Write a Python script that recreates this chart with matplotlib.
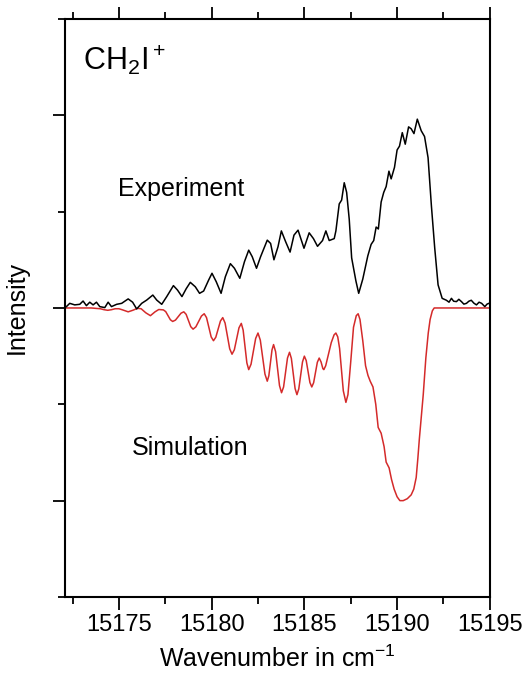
import matplotlib
matplotlib.use("Agg")
import matplotlib.pyplot as plt
from matplotlib.ticker import MultipleLocator

plt.rcParams['font.family'] = ['Liberation Sans', 'DejaVu Sans']
plt.rcParams['mathtext.fontset'] = 'custom'
plt.rcParams['mathtext.rm'] = 'Liberation Sans'
plt.rcParams['mathtext.it'] = 'Liberation Sans'

# Experiment (black)
exp_x = [15172.17, 15172.35, 15172.62, 15172.89, 15173.07, 15173.25, 15173.43, 15173.61,
         15173.79, 15173.97, 15174.24, 15174.42, 15174.6, 15174.88, 15175.15, 15175.5,
         15175.74, 15175.96, 15176.23, 15176.5, 15176.83, 15177.04, 15177.31, 15177.58,
         15177.94, 15178.16, 15178.4, 15178.63, 15178.85, 15179.12, 15179.35, 15179.57,
         15179.84, 15180.02, 15180.25, 15180.51, 15180.74, 15181.01, 15181.23, 15181.52,
         15181.77, 15182.0, 15182.19, 15182.42, 15182.64, 15183.0, 15183.18, 15183.36,
         15183.58, 15183.76, 15183.99, 15184.23, 15184.44, 15184.66,
         15184.98, 15185.26, 15185.49, 15185.71, 15185.98, 15186.16, 15186.34, 15186.61,
         15186.7, 15186.88, 15187.01, 15187.15, 15187.28, 15187.42, 15187.55, 15187.78,
         15187.93, 15188.15, 15188.42, 15188.6, 15188.74, 15188.87, 15188.99, 15189.14,
         15189.28, 15189.41, 15189.56, 15189.68, 15189.86, 15190.0, 15190.13, 15190.28,
         15190.44, 15190.62, 15190.76, 15190.91, 15191.09, 15191.3, 15191.48, 15191.67,
         15191.85, 15192.03, 15192.21, 15192.43, 15192.66, 15192.8, 15192.93, 15193.05,
         15193.2, 15193.33, 15193.47, 15193.6, 15193.74, 15193.87, 15194.0, 15194.14,
         15194.28, 15194.42, 15194.56, 15194.73, 15194.85, 15194.95]
exp_y = [0.007, 0.024, 0.016, 0.019, 0.036, 0.012, 0.03, 0.016,
         0.03, 0.007, 0.002, 0.03, 0.007, 0.019, 0.024, 0.047,
         0.03, -0.005, 0.024, 0.041, 0.067, 0.041, 0.019, 0.059,
         0.116, 0.093, 0.059, 0.10, 0.133, 0.11, 0.076, 0.088,
         0.145, 0.18, 0.136, 0.076, 0.162, 0.23, 0.206, 0.154,
         0.24, 0.30, 0.266, 0.206, 0.266, 0.352, 0.335, 0.25,
         0.318, 0.40, 0.344, 0.29, 0.378, 0.404,
         0.31, 0.39, 0.36, 0.32, 0.35, 0.40, 0.35, 0.36,
         0.40, 0.54, 0.56, 0.65, 0.60, 0.46, 0.26, 0.14,
         0.076, 0.15, 0.27, 0.33, 0.35, 0.42, 0.41, 0.55,
         0.60, 0.63, 0.71, 0.67, 0.73, 0.82, 0.84, 0.91,
         0.85, 0.94, 0.93, 0.905, 0.98, 0.92, 0.89, 0.78,
         0.53, 0.31, 0.12, 0.05, 0.04, 0.03, 0.05, 0.035,
         0.033, 0.045, 0.033, 0.02, 0.024, 0.035, 0.04, 0.025,
         0.016, 0.03, 0.024, 0.007, 0.02, 0.024]

# Simulation (red)
sim_x = [15172.1, 15173.5, 15174.0, 15174.2, 15174.4, 15174.6, 15174.8, 15175.0,
         15175.2, 15175.5, 15175.75, 15176.0, 15176.2, 15176.45, 15176.7, 15176.95,
         15177.15, 15177.4, 15177.525, 15177.65, 15177.775, 15177.9, 15178.05, 15178.2,
         15178.35, 15178.5, 15178.625, 15178.75, 15178.875, 15179.0, 15179.15, 15179.3,
         15179.45, 15179.6, 15179.725, 15179.85, 15179.975, 15180.1, 15180.225, 15180.35,
         15180.475, 15180.6, 15180.725, 15180.85, 15180.975, 15181.1, 15181.225, 15181.35,
         15181.475, 15181.6, 15181.7, 15181.8, 15181.9, 15182.0, 15182.125, 15182.25,
         15182.375, 15182.5, 15182.625, 15182.75, 15182.875, 15183.0, 15183.085, 15183.17,
         15183.255, 15183.34, 15183.45, 15183.555, 15183.66, 15183.77, 15183.88, 15183.985,
         15184.09, 15184.2, 15184.3, 15184.4, 15184.5, 15184.6, 15184.7, 15184.8,
         15184.9, 15185.0, 15185.1, 15185.2, 15185.3, 15185.4, 15185.5, 15185.6,
         15185.7, 15185.8, 15185.9, 15186.0, 15186.05, 15186.15, 15186.3, 15186.45,
         15186.6, 15186.7, 15186.8, 15186.9, 15187.0, 15187.1, 15187.24, 15187.35,
         15187.5, 15187.65, 15187.8, 15187.9, 15188.0, 15188.15, 15188.3, 15188.43,
         15188.55, 15188.7, 15188.85, 15188.98, 15189.14, 15189.3, 15189.41, 15189.57,
         15189.7, 15189.84, 15190.0, 15190.15, 15190.33, 15190.55, 15190.76, 15190.9,
         15191.03, 15191.12, 15191.2, 15191.3, 15191.41, 15191.55, 15191.68, 15191.78,
         15191.9, 15192.0, 15195.0]
sim_y = [0.0, 0.0, -0.004, -0.009, -0.012, -0.009, -0.004, -0.004,
         -0.01, -0.02, -0.012, -0.002, -0.004, -0.025, -0.04, -0.02,
         -0.008, -0.01, -0.019, -0.04, -0.061, -0.07, -0.063, -0.045,
         -0.027, -0.02, -0.033, -0.065, -0.097, -0.11, -0.098, -0.07,
         -0.042, -0.03, -0.05, -0.10, -0.15, -0.17, -0.152, -0.11,
         -0.068, -0.05, -0.078, -0.145, -0.212, -0.24, -0.217, -0.16,
         -0.103, -0.08, -0.115, -0.20, -0.285, -0.32, -0.292, -0.225,
         -0.158, -0.13, -0.167, -0.255, -0.343, -0.38, -0.352, -0.285,
         -0.218, -0.19, -0.227, -0.315, -0.403, -0.44, -0.41, -0.335,
         -0.26, -0.23, -0.262, -0.34, -0.418, -0.45, -0.42, -0.35,
         -0.28, -0.25, -0.273, -0.33, -0.387, -0.41, -0.388, -0.335,
         -0.282, -0.26, -0.28, -0.315, -0.32, -0.30, -0.24, -0.18,
         -0.14, -0.13, -0.15, -0.21, -0.32, -0.43, -0.49, -0.45,
         -0.28, -0.10, -0.04, -0.03, -0.06, -0.17, -0.30, -0.35,
         -0.38, -0.41, -0.50, -0.62, -0.65, -0.72, -0.80, -0.83,
         -0.89, -0.94, -0.98, -1.0, -1.0, -0.99, -0.97, -0.94,
         -0.88, -0.78, -0.68, -0.57, -0.45, -0.26, -0.13, -0.06,
         -0.015, 0.0, 0.0]

fig = plt.figure(figsize=(5.25, 6.75), dpi=100)
ax = fig.add_axes([0.124, 0.1156, 0.809, 0.8563])

ax.plot(sim_x, sim_y, color="#d42a2a", lw=1.1, solid_joinstyle="round")
ax.plot(exp_x, exp_y, color="k", lw=1.1, solid_joinstyle="round")

ax.set_xlim(15172.1, 15195)
ax.set_ylim(-1.5, 1.5)
ax.xaxis.set_major_locator(MultipleLocator(5))
ax.xaxis.set_minor_locator(MultipleLocator(2.5))
ax.yaxis.set_major_locator(MultipleLocator(1))
ax.yaxis.set_minor_locator(MultipleLocator(0.5))
ax.set_yticklabels([])
ax.tick_params(which="both", direction="out", top=True, right=False, width=1.3)
ax.tick_params(which="major", length=9, labelsize=17)
ax.tick_params(which="minor", length=5)
for s in ax.spines.values():
    s.set_linewidth(1.5)

ax.text(15173.05, 1.285, "CH$_2$I$^+$", fontsize=22, va="center", ha="left")
ax.text(15178.36, 0.62, "Experiment", fontsize=18, va="center", ha="center")
ax.text(15178.85, -0.725, "Simulation", fontsize=18, va="center", ha="center")

ax.set_xlabel("Wavenumber in cm$^{-1}$", fontsize=18, labelpad=7)
ax.set_ylabel("Intensity", fontsize=18, labelpad=14)

plt.savefig("out.png", dpi=100)
